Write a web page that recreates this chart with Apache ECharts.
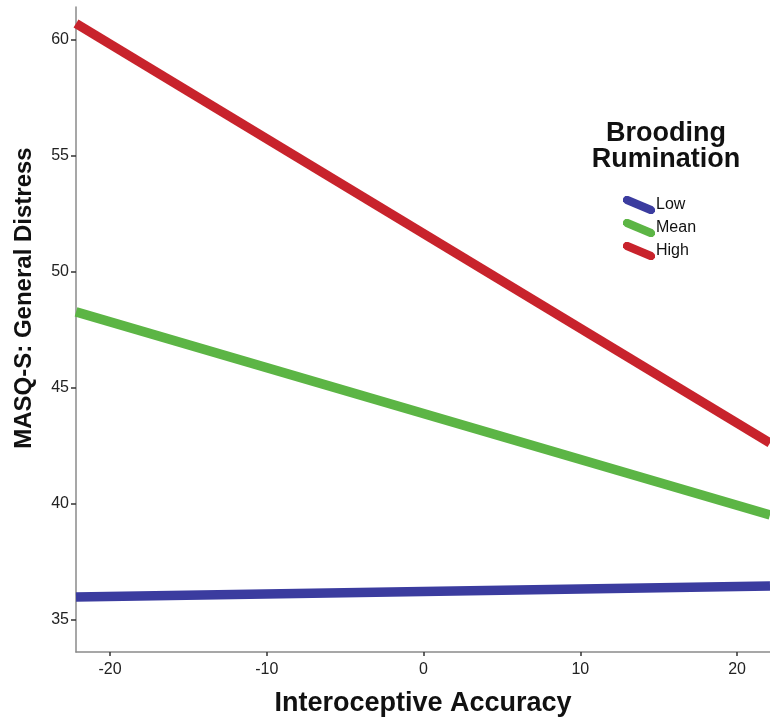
<!DOCTYPE html>
<html>
<head>
<meta charset="utf-8">
<script src="https://cdn.jsdelivr.net/npm/echarts@6/dist/echarts.min.js"></script>
<style>
html,body{margin:0;padding:0;background:#fff;}
#chart{width:770px;height:727px;}
</style>
</head>
<body>
<div id="chart"></div>
<script>
// Data
const xEnds = [-22.17, 22.1];
const lowValues = [35.99, 36.47];
const meanValues = [48.28, 39.53];
const highValues = [60.71, 42.63];
const seriesNames = ['Low', 'Mean', 'High'];
const seriesColors = ['#3B3C9F', '#5CB545', '#C8232C'];
const xTicks = [-20, -10, 0, 10, 20];
const yTicks = [35, 40, 45, 50, 55, 60];
const xRange = [-22.17, 22.1];
const yRange = [33.62, 61.42];

const seriesValues = [lowValues, meanValues, highValues];

const iconPath = 'path://M2.46,7.69 L26.46,17.69 L29.52,17.70 L31.69,15.54 L31.70,12.48 L29.54,10.31 L5.54,0.31 L2.48,0.30 L0.31,2.46 L0.30,5.52 Z';

const chart = echarts.init(document.getElementById('chart'), null, {renderer: 'canvas'});

const fontFam = 'Liberation Sans, Arial, Helvetica, sans-serif';

chart.setOption({
  animation: false,
  backgroundColor: '#ffffff',
  grid: {left: 76, right: 0, top: 7, bottom: 75, containLabel: false},
  xAxis: {
    type: 'value',
    min: xRange[0], max: xRange[1],
    name: 'Interoceptive Accuracy',
    nameLocation: 'middle',
    nameGap: 38,
    nameTextStyle: {fontFamily: fontFam, fontSize: 27, fontWeight: 'bold', color: '#111'},
    splitLine: {show: false},
    axisLine: {show: true, onZero: false, lineStyle: {color: '#8a8a8a', width: 1.5}},
    axisTick: {show: true, length: 4, customValues: xTicks, lineStyle: {color: '#333', width: 1.5}},
    axisLabel: {customValues: xTicks, margin: 10, fontFamily: fontFam, fontSize: 16, color: '#222'}
  },
  yAxis: {
    type: 'value',
    min: yRange[0], max: yRange[1],
    name: 'MASQ-S: General Distress',
    nameLocation: 'middle',
    nameGap: 40,
    nameTextStyle: {fontFamily: fontFam, fontSize: 24, fontWeight: 'bold', color: '#111', padding: [0, 0, 0, 63]},
    splitLine: {show: false},
    axisLine: {show: true, onZero: false, lineStyle: {color: '#8a8a8a', width: 1.5}},
    axisTick: {show: true, length: 5, customValues: yTicks, lineStyle: {color: '#333', width: 1.5}},
    axisLabel: {customValues: yTicks, margin: 7, fontFamily: fontFam, fontSize: 16, color: '#222'}
  },
  legend: {
    orient: 'vertical',
    left: 623,
    top: 196,
    itemWidth: 32,
    itemHeight: 18,
    itemGap: 5,
    padding: 0,
    icon: iconPath,
    symbolKeepAspect: false,
    textStyle: {fontFamily: fontFam, fontSize: 16, color: '#111', padding: [0, 0, 0, -4]},
    data: seriesNames
  },
  graphic: [{
    type: 'text',
    x: 666,
    y: 120.5,
    style: {
      text: 'Brooding\nRumination',
      fontFamily: fontFam,
      fontSize: 27,
      fontWeight: 'bold',
      lineHeight: 26,
      fill: '#111',
      align: 'center',
      verticalAlign: 'top'
    }
  }],
  series: seriesNames.map((name, i) => ({
    name: name,
    type: 'line',
    data: xEnds.map((x, j) => [x, seriesValues[i][j]]),
    showSymbol: false,
    symbol: 'none',
    color: seriesColors[i],
    lineStyle: {width: 9.5, color: seriesColors[i], cap: 'butt'},
    clip: true,
    z: 2
  }))
});
</script>
</body>
</html>
